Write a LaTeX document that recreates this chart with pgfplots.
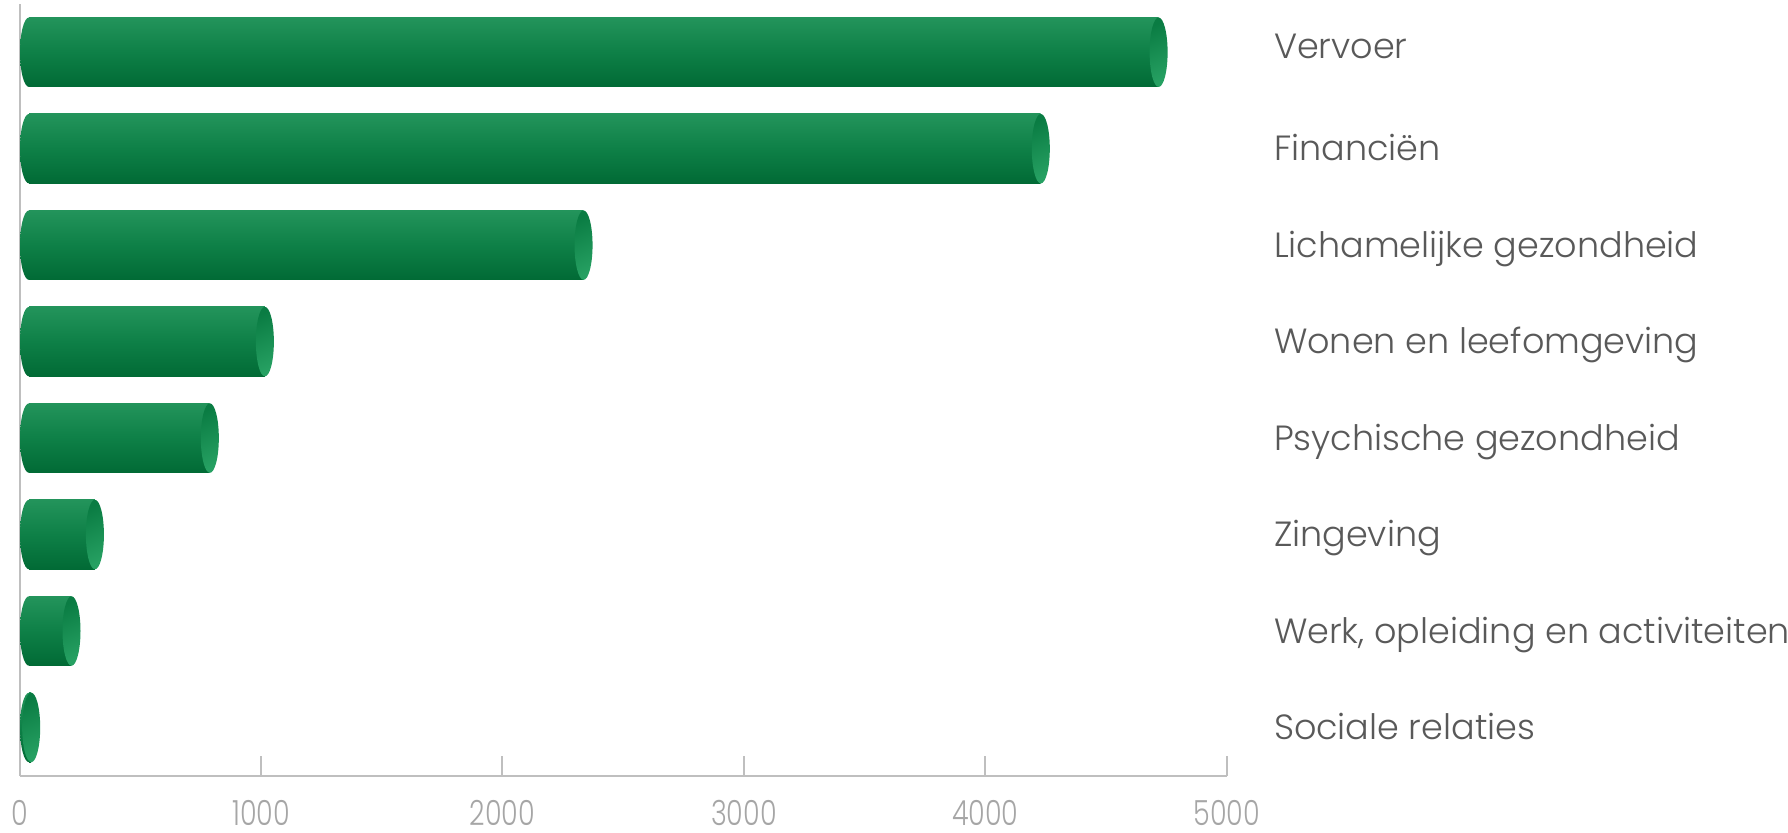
\documentclass[border=0pt]{standalone}
\usepackage{fontspec}
\setmainfont{Poppins}[UprightFont=* Light]
\newfontfamily\tickfont{Poppins}[UprightFont=* Light, FakeStretch=0.78]
\usepackage{pgfplots}
\pgfplotsset{compat=1.18}
\usetikzlibrary{shapes.geometric}
\definecolor{bartop}{HTML}{23945B}
\definecolor{barmid}{HTML}{0E8047}
\definecolor{barbot}{HTML}{016A35}
\definecolor{captl}{HTML}{0A7C43}
\definecolor{capbr}{HTML}{26A062}
\definecolor{axgray}{HTML}{BFBFBF}
\definecolor{lblgray}{HTML}{595959}
\definecolor{tickgray}{HTML}{A6A6A6}
% length in pt of one data unit on the x axis (603.55pt / 5000)
\newcommand{\unitpt}{0.12071}
\begin{document}
\begin{tikzpicture}
\begin{axis}[
  width=603.55pt, height=385.85pt, scale only axis,
  xmin=0, xmax=5000, ymin=-0.5, ymax=7.5,
  xbar stacked, reverse stacked plots=false, bar width=34.75pt,
  axis x line*=bottom, axis y line*=left,
  axis line style={draw=axgray, line width=1pt},
  xtick={0,1000,2000,3000,4000,5000},
  tick align=inside, major tick length=10pt,
  xtick style={draw=axgray, line width=1pt},
  xticklabel style={anchor=center, inner sep=0pt, yshift=-18.6pt, font=\tickfont\fontsize{17.3}{20}\selectfont, text=tickgray},
  /pgf/number format/assume math mode=true,
  /pgf/number format/1000 sep={},
  ytick={0,1,2,3,4,5,6,7},
  yticklabels={Sociale relaties,{Werk, opleiding en activiteiten},Zingeving,Psychische gezondheid,Wonen en leefomgeving,Lichamelijke gezondheid,Financiën,{\raisebox{3pt}{Vervoer}}},
  ytick style={draw=none},
  yticklabel style={anchor=west, xshift=627pt, inner sep=0pt, text height=12.2pt, text depth=0pt, font=\fontsize{17.5}{21}\selectfont, text=lblgray},
  clip=false,
]
\coordinate (O) at (rel axis cs:0,0);
% depth offset of the 3D cylinders (invisible base)
\addplot[draw=none, fill=none]
  coordinates {(38.5,0) (38.5,1) (38.5,2) (38.5,3) (38.5,4) (38.5,5) (38.5,6) (38.5,7)};
% rounded back end of each cylinder (thin carrier segment)
\addplot[draw=none, fill=none,
  nodes near coords={\hbox{}},
  every node near coord/.style={ellipse, draw=none, minimum width=9pt, minimum height=34.75pt, inner sep=0pt, top color=bartop, bottom color=barbot, middle color=barmid, anchor=center}]
  coordinates {(1,0) (1,1) (1,2) (1,3) (1,4) (1,5) (1,6) (1,7)};
% cylinder bodies: the values (each body shaded on its own)
\addplot[draw=none, fill=none, point meta=rawx,
  nodes near coords={\pgfkeys{/pgf/fpu=true}\pgfmathparse{\pgfplotspointmeta*\unitpt}\pgfmathfloattofixed{\pgfmathresult}\edef\barw{\pgfmathresult}\pgfkeys{/pgf/fpu=false}\hbox to \barw pt{}},
  every node near coord/.style={rectangle, draw=none, minimum height=34.75pt, inner sep=0pt, outer sep=0pt, text height=0pt, text depth=0pt, top color=bartop, bottom color=barbot, middle color=barmid, anchor=center}]
  coordinates {(8,0) (175,1) (272,2) (748,3) (976,4) (2296,5) (4190,6) (4678,7)};
% front caps (thin carrier segment)
\addplot[draw=none, fill=none,
  nodes near coords={\hbox{}},
  every node near coord/.style={ellipse, draw=none, minimum width=9pt, minimum height=34.75pt, inner sep=0pt, top color=captl, bottom color=capbr, shading angle=25, anchor=center}]
  coordinates {(1,0) (1,1) (1,2) (1,3) (1,4) (1,5) (1,6) (1,7)};
\end{axis}
\pgfresetboundingbox
\path[use as bounding box] (O) ++(-9.8pt,-28.65pt) rectangle ++(894pt,416.5pt);
\end{tikzpicture}
\end{document}
